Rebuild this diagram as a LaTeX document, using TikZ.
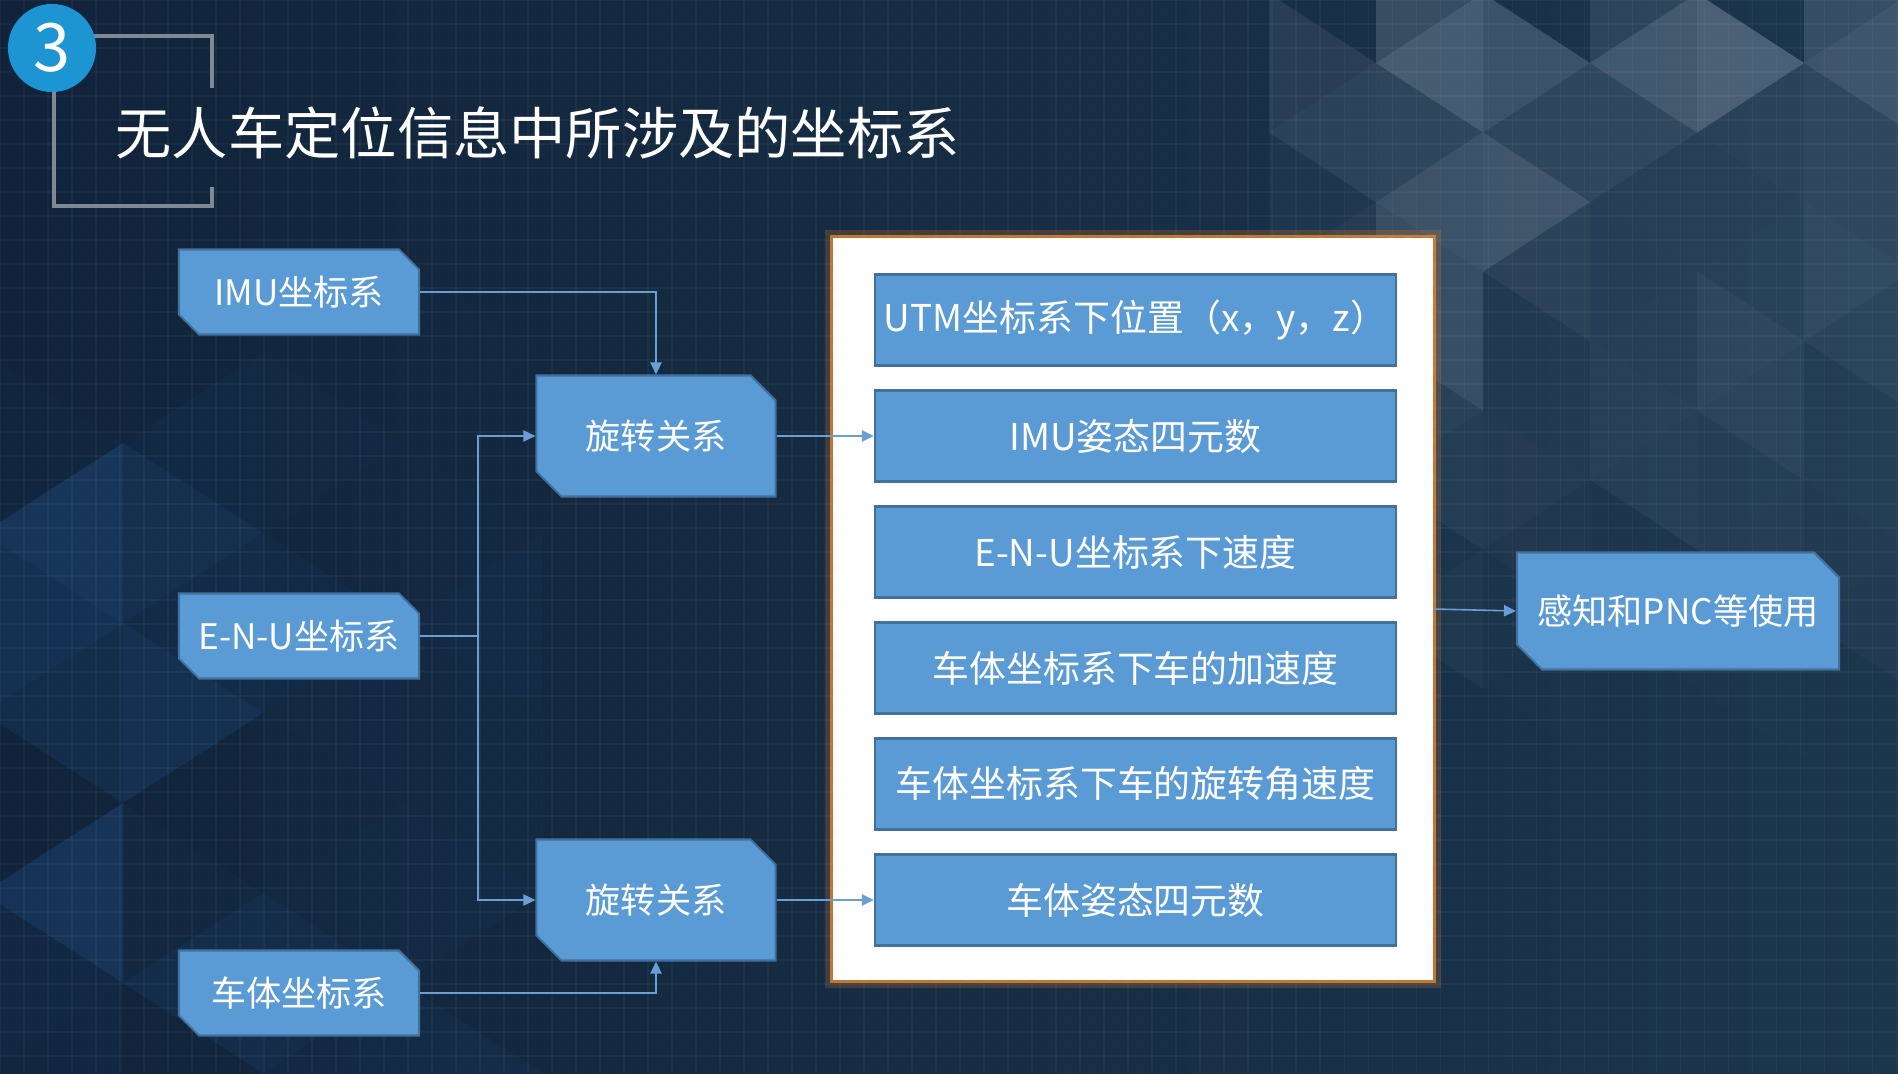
\documentclass[tikz,border=0pt]{standalone}
\usepackage{fontspec}
\newfontfamily\cjk{Noto Sans CJK SC}
\usetikzlibrary{arrows.meta,shapes.misc}
\definecolor{boxblue}{HTML}{5B9BD5}
\definecolor{boxedge}{HTML}{41719C}
\definecolor{linkblue}{HTML}{6A9FD6}
\definecolor{badgeblue}{HTML}{1E95D3}
\definecolor{bracketgray}{HTML}{7D8A96}
\definecolor{glow}{HTML}{EE8A30}
\definecolor{paneledge}{HTML}{C8702A}
\definecolor{bgdark}{HTML}{091522}
\definecolor{bgleft}{HTML}{10233A}
\definecolor{bgright}{HTML}{1C364D}
\definecolor{triblue}{HTML}{2A6CB8}
\definecolor{trigray}{HTML}{A8BCCC}

\begin{document}
\begin{tikzpicture}[x=0.01cm,y=-0.01cm,>={Triangle[length=3.4pt,width=3.2pt]},
  font=\cjk\fontsize{10}{12}\selectfont,
  gridline/.style={white,opacity=0.035,line width=0.3pt},
  bracketline/.style={bracketgray,line width=0.035cm},
  basebox/.style={chamfered rectangle,chamfered rectangle corners={north east,south west},
    fill=boxblue,draw=boxedge,line width=0.6pt,text=white,inner sep=0pt},
  srcbox/.style={basebox,minimum width=2.4cm,minimum height=0.85cm,chamfered rectangle xsep=0.1cm},
  rotbox/.style={basebox,minimum width=2.39cm,minimum height=1.21cm,chamfered rectangle xsep=0.15cm},
  usebox/.style={basebox,minimum width=3.22cm,minimum height=1.17cm,chamfered rectangle xsep=0.15cm},
  itembox/.style={rectangle,fill=boxblue,draw=boxedge,line width=0.6pt,text=white,inner sep=0pt,
    minimum width=5.21cm,minimum height=0.91cm,font=\cjk\fontsize{10.5}{12}\selectfont},
  panelbox/.style={rectangle,fill=white,draw=paneledge,densely dashed,line width=0.3pt,
    minimum width=6cm,minimum height=7.42cm,
    preaction={draw=glow,solid,line width=0.15cm,opacity=0.2},
    preaction={draw=glow,solid,line width=0.06cm,opacity=0.75}},
  link/.style={linkblue,line width=0.45pt}]
\useasboundingbox (0,0) rectangle (1898,1073);
% background
\fill[bgdark] (0,0) rectangle (1898,1073);
\shade[left color=bgleft,middle color=bgdark,right color=bgright] (0,0) rectangle (1898,1073);
\pgfmathsetseed{11}
% triangles, right
\foreach \k in {-1,...,4}{
  \pgfmathsetmacro\xa{1376+107*\k}
  \pgfmathsetmacro\xb{\xa+107}
  \pgfmathsetmacro\ya{63+69.5*mod(\k+2,2)}
  \foreach \m in {-1,...,4}{
    \pgfmathsetmacro\yt{\ya+139*\m}
    \pgfmathsetmacro\fa{max(0,1-(\yt+70)/650)*(\k<0 ? 0.4 : 1)}
    \pgfmathsetmacro\opa{(0.1+rnd*0.3)*\fa}
    \pgfmathsetmacro\opb{(0.1+rnd*0.3)*\fa}
    \fill[trigray,opacity=\opa] (\xa,\yt) -- (\xa,\yt+139) -- (\xb,\yt+69.5) -- cycle;
    \fill[trigray,opacity=\opb] (\xb,\yt+69.5) -- (\xb,\yt+208.5) -- (\xa,\yt+139) -- cycle;
  }
}
% triangles, left
\foreach \k in {0,...,3}{
  \pgfmathsetmacro\xa{-17+140*\k}
  \pgfmathsetmacro\xb{\xa+140}
  \pgfmathsetmacro\ya{83+90*mod(\k+1,2)}
  \foreach \m in {0,...,5}{
    \pgfmathsetmacro\yt{\ya+180*\m}
    \pgfmathsetmacro\fa{max(0,1-(\xa+70)/640)*min(1,max(0,(\yt-190)/160))}
    \pgfmathsetmacro\opa{rnd*0.3*\fa}
    \pgfmathsetmacro\opb{rnd*0.3*\fa}
    \fill[triblue,opacity=\opa] (\xa,\yt) -- (\xa,\yt+180) -- (\xb,\yt+90) -- cycle;
    \fill[triblue,opacity=\opb] (\xb,\yt+90) -- (\xb,\yt+270) -- (\xa,\yt+180) -- cycle;
  }
}
\foreach \g in {0,24,...,1896} \draw[gridline] (\g,0) -- (\g,1073);
\foreach \g in {0,24,...,1072} \draw[gridline] (0,\g) -- (1898,\g);
% heading
\draw[bracketline] (60,36) -- (212,36) -- (212,88);
\draw[bracketline] (54,60) -- (54,206) -- (212,206) -- (212,187);
\node[circle,fill=badgeblue,minimum size=0.88cm,inner sep=0pt,text=white,
  font=\cjk\fontsize{19}{19}\selectfont] (badge) at (52,48) {3};
\node[anchor=west,inner sep=0pt,text=white,font=\cjk\fontsize{16}{20}\selectfont]
  (title) at (115,133) {无人车定位信息中所涉及的坐标系};
% source frames
\node[srcbox] (imu) at (299,292) {IMU坐标系};
\node[srcbox] (enu) at (299,636) {E-N-U坐标系};
\node[srcbox] (car) at (299,993) {车体坐标系};
\node[rotbox] (rot1) at (656,436) {旋转关系};
\node[rotbox] (rot2) at (656,900) {旋转关系};
% output panel
\node[panelbox] (panel) at (1133,609) {};
\foreach \t [count=\i] in {UTM坐标系下位置（x，y，z）,IMU姿态四元数,E-N-U坐标系下速度,
    车体坐标系下车的加速度,车体坐标系下车的旋转角速度,车体姿态四元数}
  \node[itembox] (item\i) at (1135.5,{320+116*(\i-1)}) {\t};
\node[usebox] (use) at (1678,611) {感知和PNC等使用};
% connectors
\coordinate (split) at (478,636);
\draw[link,->] (imu.east) -| (rot1.north);
\draw[link] (enu.east) -- (split);
\draw[link,->] (split) |- (rot1.west);
\draw[link,->] (split) |- (rot2.west);
\draw[link,->] (car.east) -| (rot2.south);
\draw[link,->] (rot1.east) -- (item2.west);
\draw[link,->] (rot2.east) -- (item6.west);
\draw[link,->] (panel.east) -- (use.west);
\end{tikzpicture}
\end{document}
